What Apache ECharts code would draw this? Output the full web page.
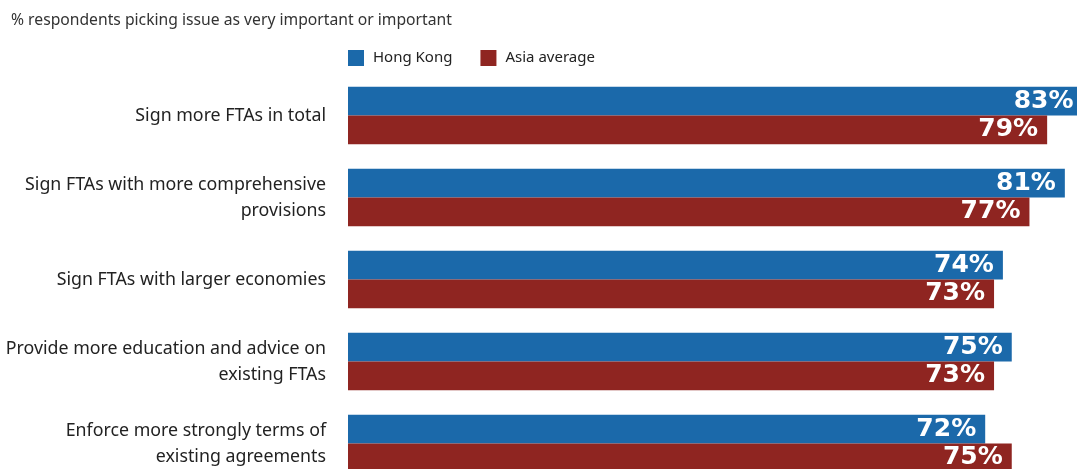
<!DOCTYPE html>
<html>
<head>
<meta charset="utf-8">
<script src="https://cdn.jsdelivr.net/npm/echarts@6/dist/echarts.min.js"></script>
<style>
  html, body { margin: 0; padding: 0; background: #fff; }
  #chart { width: 1077px; height: 469px; }
</style>
</head>
<body>
<div id="chart"></div>
<script>
// 分类（从上到下）
const categories = [
  'Sign more FTAs in total',
  'Sign FTAs with more comprehensive\nprovisions',
  'Sign FTAs with larger economies',
  'Provide more education and advice on\nexisting FTAs',
  'Enforce more strongly terms of\nexisting agreements'
]
const hongKong = [83, 81, 74, 75, 72]
const asiaAverage = [79, 77, 73, 73, 75]

const chart = echarts.init(document.getElementById('chart'))

const valueLabel = {
  show: true,
  position: 'insideRight',
  distance: 9,
  formatter: '{c}%',
  color: '#fff',
  fontFamily: 'DejaVu Sans',
  fontWeight: 'bold',
  fontSize: 25
}

const options = {
  animation: false,
  title: {
    text: '% respondents picking issue as very important or important',
    left: 6,
    top: 8,
    textStyle: {
      fontFamily: 'Noto Sans',
      fontWeight: 'normal',
      fontSize: 15.7,
      color: '#333'
    }
  },
  legend: {
    left: 343,
    top: 45,
    itemWidth: 16,
    itemHeight: 16,
    itemGap: 28,
    icon: 'rect',
    textStyle: {
      fontFamily: 'Noto Sans',
      fontSize: 15,
      color: '#222',
      padding: [0, 0, 0, 4]
    }
  },
  // 图表超出画布右侧和底部，宽高固定
  grid: {
    left: 348,
    top: 74.5,
    width: 885,
    height: 410,
    outerBoundsMode: 'none',
    containLabel: false
  },
  xAxis: {
    type: 'value',
    min: 0,
    max: 100,
    show: false
  },
  yAxis: {
    type: 'category',
    inverse: true,
    data: categories,
    axisLine: { show: false },
    axisTick: { show: false },
    splitLine: { show: false },
    axisLabel: {
      margin: 22,
      fontFamily: 'Noto Sans',
      fontSize: 17.8,
      lineHeight: 26,
      color: '#222',
      align: 'right'
    }
  },
  color: ['#1b69aa', '#8f2521'],
  series: [
    {
      name: 'Hong Kong',
      type: 'bar',
      data: hongKong,
      barGap: '0%',
      barCategoryGap: '30%',
      label: valueLabel
    },
    {
      name: 'Asia average',
      type: 'bar',
      data: asiaAverage,
      barGap: '0%',
      barCategoryGap: '30%',
      label: valueLabel
    }
  ]
}

chart.setOption(options)
</script>
</body>
</html>
